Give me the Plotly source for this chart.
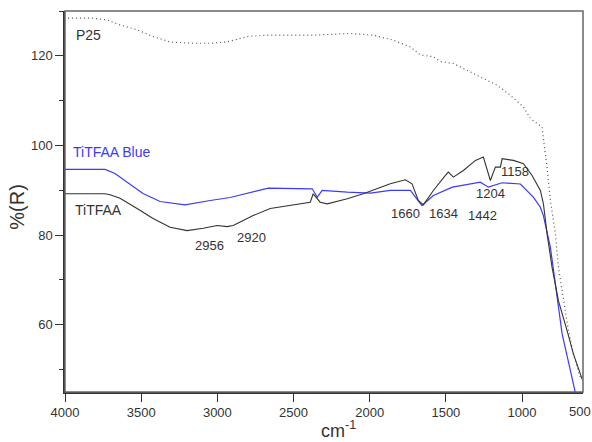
import plotly.graph_objects as go

# Reflectance spectra (wavenumber in cm-1, %R)
p25_wn = [3980, 3816, 3724, 3639, 3527, 3422, 3310, 3159, 3047, 2936, 2804, 2673,
          2502, 2371, 2128, 1977, 1845, 1733, 1668, 1582, 1536, 1451, 1339, 1254,
          1162, 1077, 991, 945, 868, 853, 836, 814, 781, 761, 728, 695, 663, 617]
p25_r = [128.4, 128.4, 128.0, 126.9, 125.8, 124.3, 123.1, 122.8, 122.8, 123.1, 124.3, 124.6,
         124.6, 124.6, 125.0, 124.6, 123.5, 122.0, 120.2, 119.8, 118.7, 118.3, 116.4, 114.9,
         113.4, 111.2, 108.6, 106.0, 104.1, 99.6, 95.2, 87.7, 80.3, 72.8, 65.4, 58.6, 53.5, 48.2]

blue_wn = [4000, 3737, 3672, 3488, 3376, 3212, 3047, 2916, 2666, 2377, 2344, 2312,
           2147, 1996, 1865, 1733, 1657, 1582, 1457, 1274, 1221, 1131, 1011, 926,
           880, 860, 814, 737, 650]
blue_r = [94.65, 94.65, 93.76, 89.28, 87.49, 86.76, 87.72, 88.39, 90.47, 90.33, 88.46, 89.96,
          89.58, 89.35, 89.96, 89.96, 86.60, 88.84, 90.70, 91.81, 90.70, 91.68, 91.40, 88.46,
          86.22, 84.36, 77.27, 57.96, 44.83]

black_wn = [4000, 3737, 3704, 3639, 3527, 3422, 3310, 3198, 3093, 3001, 2936, 2896,
            2765, 2653, 2390, 2371, 2325, 2279, 2147, 2042, 1865, 1766, 1722, 1681,
            1648, 1582, 1503, 1484, 1451, 1385, 1306, 1254, 1208, 1175, 1142, 1131,
            1057, 991, 934, 880, 860, 836, 803, 761, 704, 663, 605]
black_r = [89.22, 89.22, 89.0, 88.23, 85.93, 83.69, 81.74, 81.0, 81.52, 82.13, 81.9, 82.13,
           84.36, 85.93, 87.34, 89.22, 87.34, 86.98, 88.10, 89.22, 91.45, 92.35, 91.45, 87.72,
           86.76, 89.96, 93.31, 94.05, 92.93, 94.43, 96.67, 97.41, 92.19, 95.17, 95.17, 97.05,
           96.67, 95.93, 93.31, 89.96, 87.05, 80.34, 72.80, 65.35, 58.64, 53.49, 47.83]

# Series labels and band assignments
series_labels = [("P25", 3941, 124.6, "#333333"),
                 ("TiTFAA Blue", 3961, 98.5, "#3a3aff"),
                 ("TiTFAA", 3947, 85.5, "#333333")]
band_labels = [("2956", 3054, 77.65), ("2920", 2778, 79.5), ("1660", 1766, 84.74),
               ("1634", 1517, 84.74), ("1442", 1261, 84.36), ("1204", 1208, 89.22),
               ("1158", 1044, 94.27)]

x_ticks = [4000, 3500, 3000, 2500, 2000, 1500, 1000]

FONT = "Arial, Liberation Sans, sans-serif"

fig = go.Figure()
fig.add_trace(go.Scatter(x=p25_wn, y=p25_r, mode="lines",
                         line=dict(color="#555555", width=1.2, dash="1px,3px")))
fig.add_trace(go.Scatter(x=blue_wn, y=blue_r, mode="lines",
                         line=dict(color="#3a3aff", width=1.2)))
fig.add_trace(go.Scatter(x=black_wn, y=black_r, mode="lines",
                         line=dict(color="#333333", width=1.1)))

annotations = []
for text, x, y, color in series_labels:
    annotations.append(dict(x=x, y=y, xref="x", yref="y", text=text, showarrow=False,
                            xanchor="left", font=dict(family=FONT, size=14, color=color)))
for text, x, y in band_labels:
    annotations.append(dict(x=x, y=y, xref="x", yref="y", text=text, showarrow=False,
                            font=dict(family=FONT, size=13, color="#333333")))
# axis end label
annotations.append(dict(x=1, y=0, xref="paper", yref="paper", text="500", showarrow=False,
                        xanchor="center", yanchor="top", xshift=-3, yshift=-10,
                        font=dict(family=FONT, size=13, color="#333333")))
# axis titles
annotations.append(dict(x=0.49, y=0, xref="paper", yref="paper",
                        text="cm<sup>-1</sup>", showarrow=False, xanchor="left",
                        yanchor="bottom", yshift=-51,
                        font=dict(family=FONT, size=18, color="#333333")))
annotations.append(dict(x=-0.093, y=0.486, xref="paper", yref="paper", text="%(R)",
                        showarrow=False, textangle=-90, xanchor="center",
                        font=dict(family=FONT, size=20, color="#333333")))

fig.update_layout(
    width=592, height=442,
    margin=dict(l=65, r=9, t=11, b=50),
    paper_bgcolor="white", plot_bgcolor="white",
    showlegend=False,
    annotations=annotations,
    shapes=[dict(type="rect", xref="paper", yref="paper", x0=0, y0=0, x1=1, y1=1,
                 line=dict(color="#666666", width=1.5), layer="above")],
    font=dict(family=FONT, size=13, color="#333333"),
)
fig.update_xaxes(range=[4000, 600], tickvals=x_ticks, ticks="outside", ticklen=8,
                 tickcolor="#333333", showline=True, linecolor="#333333", linewidth=1.5,
                 showgrid=False, zeroline=False, tickfont=dict(size=13))
fig.update_yaxes(range=[45, 130], tick0=0, dtick=20, ticks="outside", ticklen=8,
                 tickcolor="#333333", showline=True, linecolor="#333333", linewidth=1.5,
                 minor=dict(dtick=10, ticks="outside", ticklen=4, tickcolor="#333333"),
                 showgrid=False, zeroline=False, tickfont=dict(size=13))

fig.write_html("out.html")
